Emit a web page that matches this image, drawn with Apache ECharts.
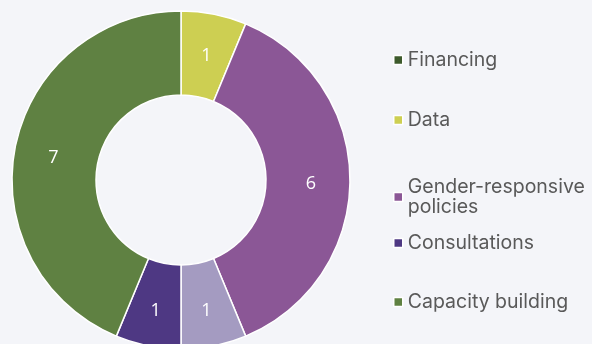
<!DOCTYPE html>
<html>
<head>
<meta charset="utf-8">
<script src="https://cdn.jsdelivr.net/npm/echarts@6/dist/echarts.min.js"></script>
<style>
  html, body { margin: 0; padding: 0; background: #f4f5f9; }
  #chart { width: 592px; height: 344px; }
</style>
</head>
<body>
<div id="chart"></div>
<script>
// Areas of support and how many actions fall under each
const categories = ['Financing', 'Data', 'Gender-responsive policies', 'Other', 'Consultations', 'Capacity building'];
const counts = [0, 1, 6, 1, 1, 7];
const colors = ['#3d5a2c', '#cdcf52', '#8b5796', '#a49bc1', '#4e3883', '#5f8142'];
// Categories shown in the legend, top to bottom
const legendNames = ['Financing', 'Data', 'Gender-responsive policies', 'Consultations', 'Capacity building'];
const legendTops = [50, 110, 167, 233, 292];

const font = 'Inter, "Open Sans", sans-serif';

const pieData = categories.map((name, i) => ({
  name: name,
  value: counts[i],
  itemStyle: { color: colors[i] },
  label: { show: counts[i] > 0 }
}));

const legends = legendNames.map((name, i) => {
  const multi = name === 'Gender-responsive policies';
  return {
    data: [name],
    orient: 'vertical',
    left: 393,
    top: legendTops[i],
    padding: 0,
    itemWidth: 9,
    itemHeight: 9,
    itemGap: 5,
    icon: 'rect',
    selectedMode: false,
    itemStyle: { borderColor: '#ffffff', borderWidth: 1.5 },
    formatter: n => multi ? 'Gender-responsive\npolicies' : n,
    textStyle: {
      fontFamily: font,
      fontSize: 19.5,
      color: '#595959',
      lineHeight: 20,
      padding: multi ? [20, 0, 0, 0] : 0
    }
  };
});

const chart = echarts.init(document.getElementById('chart'), null, { renderer: 'canvas' });
chart.setOption({
  backgroundColor: '#f4f5f9',
  animation: false,
  legend: legends,
  series: [{
    type: 'pie',
    center: [181, 180],
    radius: [85, 169],
    startAngle: 90,
    clockwise: true,
    avoidLabelOverlap: false,
    itemStyle: { borderColor: '#ffffff', borderWidth: 1.5 },
    label: {
      show: true,
      position: 'inside',
      // empty first line nudges the number slightly below the ring's mid-line
      formatter: p => '\n' + p.value,
      color: '#ffffff',
      fontFamily: '"Open Sans", sans-serif',
      fontSize: 18,
      lineHeight: 7
    },
    labelLine: { show: false },
    emphasis: { disabled: true },
    data: pieData
  }]
});
</script>
</body>
</html>
